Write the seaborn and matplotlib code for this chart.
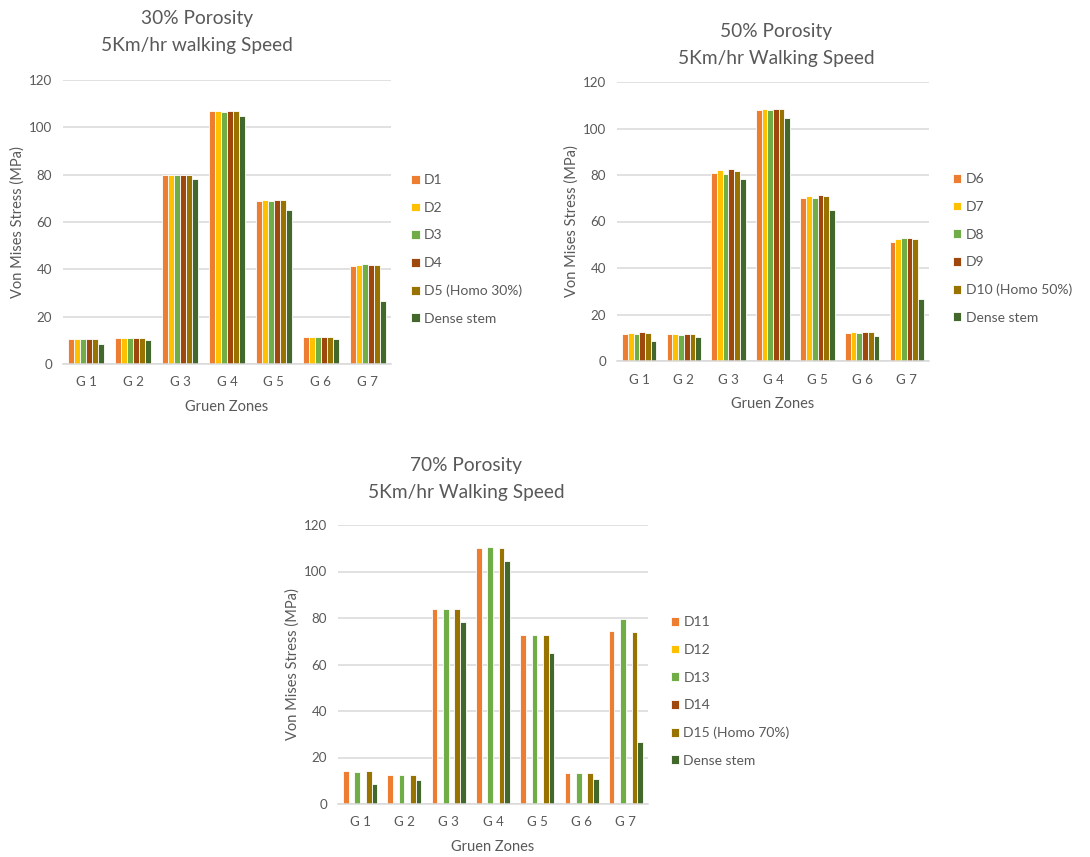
import numpy as np
import pandas as pd
import matplotlib
matplotlib.use("Agg")
import matplotlib.pyplot as plt
import seaborn as sns

# ---- data -------------------------------------------------------------
zones = ["G 1", "G 2", "G 3", "G 4", "G 5", "G 6", "G 7"]

# 30 % porosity
names_30 = ["D1", "D2", "D3", "D4", "D5 (Homo 30%)", "Dense stem"]
d1 = [10.6, 11.1, 79.7, 106.9, 68.7, 11.4, 41.5]
d2 = [10.6, 11.1, 79.7, 106.9, 69.2, 11.4, 42.0]
d3 = [10.6, 11.1, 79.7, 106.5, 68.7, 11.4, 42.3]
d4 = [10.6, 11.1, 79.7, 106.9, 69.2, 11.4, 42.0]
d5 = [10.6, 11.1, 79.7, 106.9, 69.2, 11.4, 42.0]

# 50 % porosity
names_50 = ["D6", "D7", "D8", "D9", "D10 (Homo 50%)", "Dense stem"]
d6 = [11.8, 11.5, 81.0, 108.0, 70.3, 12.1, 51.3]
d7 = [12.1, 11.5, 82.2, 108.5, 71.0, 12.5, 52.6]
d8 = [11.8, 11.2, 80.6, 108.0, 70.3, 12.1, 53.0]
d9 = [12.5, 11.8, 82.5, 108.5, 71.4, 12.5, 53.0]
d10 = [12.1, 11.5, 81.9, 108.5, 71.0, 12.5, 52.6]

# 70 % porosity (D12 and D14 have no results)
names_70 = ["D11", "D12", "D13", "D14", "D15 (Homo 70%)", "Dense stem"]
d11 = [14.2, 12.5, 83.9, 110.3, 72.6, 13.5, 74.3]
d12 = [np.nan] * 7
d13 = [13.8, 12.5, 83.9, 110.6, 72.6, 13.5, 79.6]
d14 = [np.nan] * 7
d15 = [14.2, 12.5, 83.9, 110.3, 72.6, 13.5, 73.9]

# solid (dense) stem reference, same in every panel
dense = [8.5, 10.2, 78.2, 104.6, 65.1, 10.6, 26.7]

colors = ["#ED7D31", "#FFC000", "#70AD47", "#9E480E", "#997300", "#43682B"]

titles = [
    "30% Porosity\n5Km/hr walking Speed",
    "50% Porosity\n5Km/hr Walking Speed",
    "70% Porosity\n5Km/hr Walking Speed",
]

series_sets = [
    (names_30, [d1, d2, d3, d4, d5, dense]),
    (names_50, [d6, d7, d8, d9, d10, dense]),
    (names_70, [d11, d12, d13, d14, d15, dense]),
]

# ---- style -------------------------------------------------------------
sns.set_theme(style="white")
plt.rcParams["font.family"] = ["Lato", "DejaVu Sans"]
TXT = "#595959"
GRID = "#D9D9D9"

W, H = 1090, 857
fig = plt.figure(figsize=(W / 100, H / 100), dpi=100)


def frac_box(x0, x1, ytop, ybot):
    return [x0 / W, 1 - ybot / H, (x1 - x0) / W, (ybot - ytop) / H]


boxes = [
    frac_box(63, 391, 80, 364),
    frac_box(617, 929, 82, 361),
    frac_box(338, 648, 525, 804),
]
title_pos = [(197, 32), (776, 45), (466, 479)]
legend_x = [1.062, 1.077, 1.074]

for i, ((names, series), box) in enumerate(zip(series_sets, boxes)):
    rows = []
    for name, vals in zip(names, series):
        for z, v in zip(zones, vals):
            rows.append({"zone": z, "design": name, "stress": v})
    df = pd.DataFrame(rows)

    ax = fig.add_axes(box)
    sns.barplot(
        data=df, x="zone", y="stress", hue="design",
        order=zones, hue_order=names, palette=colors,
        width=0.77, errorbar=None, edgecolor="white", linewidth=0.6,
        saturation=1, ax=ax, zorder=3,
    )

    ax.set_ylim(0, 120)
    ax.set_yticks(range(0, 121, 20))
    ax.set_xlim(-0.5, 6.5)
    ax.yaxis.grid(True, color=GRID, linewidth=1.1, zorder=0)
    ax.xaxis.grid(False)
    for side in ("top", "left", "right"):
        ax.spines[side].set_visible(False)
    ax.spines["bottom"].set_color(GRID)
    ax.spines["bottom"].set_linewidth(1.1)
    ax.spines["bottom"].set_zorder(4)
    ax.tick_params(axis="both", length=0, labelsize=9.6, labelcolor=TXT)
    ax.tick_params(axis="x", pad=9)
    ax.tick_params(axis="y", pad=8)

    ax.set_xlabel("Gruen Zones", fontsize=10.5, color=TXT)
    ax.set_ylabel("Von Mises Stress (MPa)", fontsize=10.5, color=TXT)
    axh = box[3] * H
    axw = box[2] * W
    ax.xaxis.set_label_coords(0.5, -43 / axh)
    ax.xaxis.label.set_va("center")
    ax.yaxis.set_label_coords(-45 / axw, 0.5)
    ax.yaxis.label.set_va("center")

    sns.move_legend(
        ax, "center left", bbox_to_anchor=(legend_x[i], 0.403),
        frameon=False, title=None, fontsize=10, labelcolor=TXT,
        handlelength=0.6, handleheight=0.6, handletextpad=0.3,
        labelspacing=1.12, borderpad=0, borderaxespad=0,
    )

    tx, ty = title_pos[i]
    fig.text(tx / W, 1 - ty / H, titles[i], ha="center", va="center",
             fontsize=13.8, color=TXT, linespacing=1.65)

fig.savefig("out.png", dpi=100, facecolor="white")
